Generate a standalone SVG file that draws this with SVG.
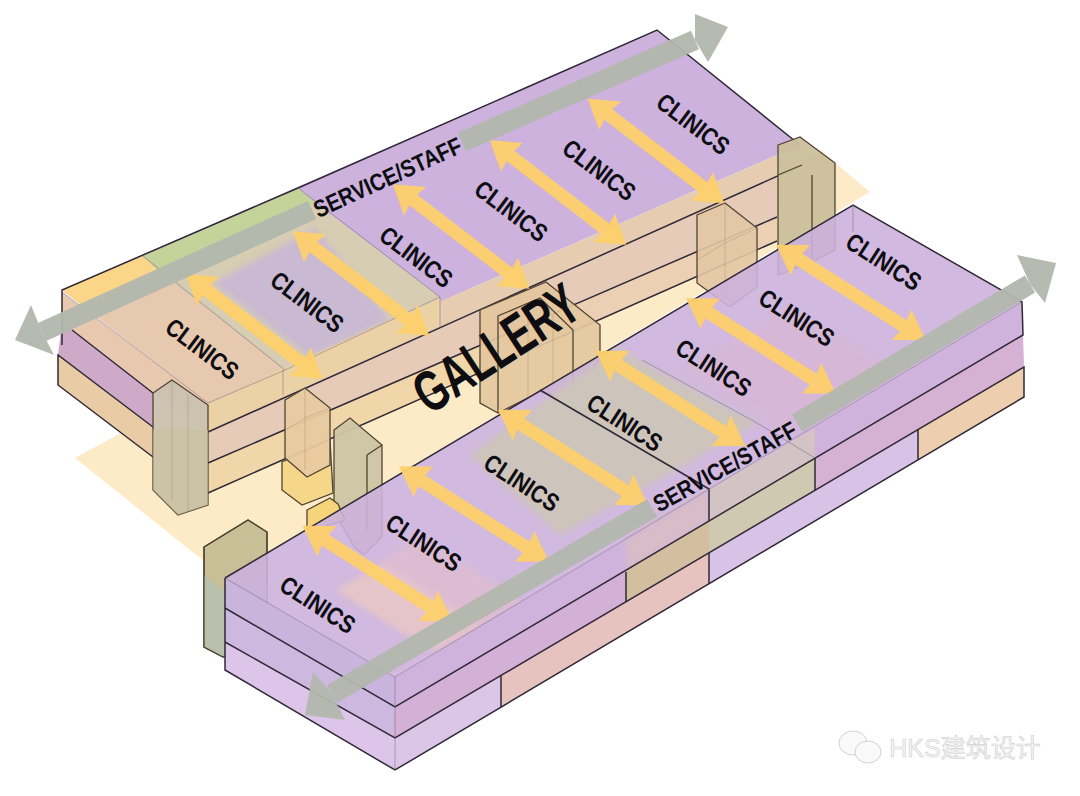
<svg xmlns="http://www.w3.org/2000/svg" width="1080" height="796" viewBox="0 0 1080 796">
<style>
.ln{fill:none;stroke:#2f2836;stroke-width:1.5}
.th{fill:none;stroke:#6f5f7c;stroke-width:.7;opacity:.7}
.tw{stroke:#4f4532;stroke-width:1.3}
.fa{fill:none;stroke:#7a6f58;stroke-width:.6;opacity:.45}
.ya{fill:#fdcf6c;opacity:.96}
.gr{fill:#b2b7ad;opacity:.95}
.grl{stroke:#b2b7ad;stroke-width:20;opacity:.95;fill:none}
.soft{filter:url(#blur)}
text{font-family:"Liberation Sans",Arial,sans-serif;font-weight:700;fill:#0d0d12;text-anchor:middle}
.cl{font-size:25px}
.ss{font-size:24px}
</style>
<defs>
<filter id="blur" x="-20%" y="-20%" width="140%" height="140%"><feGaussianBlur stdDeviation="3"/></filter>
<polygon id="ya" class="ya" points="-86,0 -58,-18 -60,-6.5 60,-6.5 58,-18 86,0 58,18 60,6.5 -60,6.5 -58,18"/>
<polygon id="yb" class="ya" points="-89,0 -60,-18 -62,-6.5 62,-6.5 60,-18 89,0 60,18 62,6.5 -62,6.5 -60,18"/>
</defs>
<rect width="1080" height="796" fill="#fff"/>

<g id="ground-plane">
<polygon points="75,458 160,412 820,150 870,192 225,578" fill="#fdebc8"/>
</g>

<g id="upper-wing">
<polygon points="62,290 657,30 803,148 777,155 208,403" fill="#ccb2dc"/>
<polygon points="62,290 143,256 160,272 85,308" fill="#fbd588"/>
<polygon points="143,256 299,188 316,203 160,272" fill="#c3d39a"/>
<polygon points="85,308 160,272 285,370 208,403" fill="#e7c9b0"/>
<polygon points="160,272 316,203 440,297 285,370" fill="#d7cdb2"/>
<polygon class="soft" points="213,283 315,228 390,320 310,357" fill="#c9b9d2"/>
<polygon points="208,403 777,155 802,165 208,432" fill="#e6cdb2"/>
<polygon points="208,403 440,297 440,325 208,432" fill="#ebd2a6"/>
<polygon points="208,432 802,165 777,217 208,463" fill="#e6cbb8"/>
<polygon points="208,463 777,217 777,241 208,493" fill="#ecd0b4"/>
<polygon points="208,463 480,346 480,373 208,493" fill="#f0d6a8"/>
<polygon points="62,292 208,403 208,432 153,393 72,330 62,322" fill="#e8c9b0"/>
<polygon points="62,322 72,330 153,393 153,427 58,355" fill="#cfaac8"/>
<polygon points="58,355 153,427 153,457 58,385" fill="#e9cba6"/>
<polyline class="ln" points="62,345 62,290 298,188 657,30 800,145"/>
<line class="ln" x1="72" y1="330" x2="153" y2="393"/>
<polyline class="ln" points="153,427 58,355 58,385 153,457"/>
<line class="ln" x1="208" y1="432" x2="802" y2="165"/>
<line class="ln" x1="208" y1="463" x2="777" y2="217"/>
<line class="ln" x1="208" y1="493" x2="777" y2="241"/>
<polyline class="th" points="62,292 208,403 285,370 440,297"/>
<line class="th" x1="143" y1="256" x2="285" y2="370"/>
<line class="th" x1="298" y1="188" x2="440" y2="297"/>
<line class="th" x1="440" y1="297" x2="440" y2="328"/>
<line class="th" x1="283" y1="370" x2="283" y2="395"/>
</g>

<g id="towers-back">
<polygon class="tw" points="778,145 800,137 835,163 835,250 812,262 778,275" fill="#cbc09c" fill-opacity=".95"/>
<polyline class="tw" fill="none" points="778,175 802,165"/>
<polyline class="tw" fill="none" points="812,175 812,262"/>
<polygon class="tw" points="697,215 725,203 757,228 757,287 730,307 697,283" fill="#e3c6a4" fill-opacity=".9"/>
<line class="fa" x1="725" y1="203" x2="725" y2="300"/>
<polyline class="fa" points="697,260 725,243 757,228"/>
<polygon class="tw" points="480,310 546,282 600,325 600,358 574,400 540,392 498,413 480,403" fill="#e4c79d" fill-opacity=".92"/>
<polyline class="tw" fill="none" points="498,413 498,316 540,298 573,330 573,400"/>
<line class="fa" x1="528" y1="305" x2="528" y2="398"/>
<line class="fa" x1="553" y1="315" x2="553" y2="385"/>
<polygon class="tw" points="334,430 350,418 382,445 382,537 364,555 355,548 334,512" fill="#cdc5a4" fill-opacity=".95"/>
<polyline class="tw" fill="none" points="367,455 367,530"/>
<line class="tw" x1="367" y1="455" x2="382" y2="445"/>
<polygon class="tw" points="204,547 248,520 267,532 267,630 223,657 204,647" fill="#c9bf96"/>
<polygon points="204,575 223,590 267,580 267,630 223,657 204,647" fill="#b9c1ae"/>
<polygon class="tw" points="204,547 248,520 267,532 267,630 223,657 204,647" fill="none"/>
<polygon class="tw" points="307,510 330,498 338,504 345,520 307,532" fill="#f6d47c"/>
</g>

<g id="lower-wing">
<polygon points="225,578 853,205 1022,302 395,677" fill="#ccb1dc" opacity=".9"/>
<polygon class="soft" points="470,455 618,347 642,362 757,423 671,473 560,535" fill="#cdc4bb"/>
<polygon class="soft" points="340,590 420,535 535,610 450,660" fill="#dfbdd2" opacity=".85"/>
<polygon class="soft" points="335,590 385,565 480,625 430,650" fill="#e6c6c8" opacity=".9"/>
<polygon class="soft" points="680,370 790,305 900,370 790,435" fill="#d8b7d6" opacity=".75"/>
<polygon points="395,677 1022,302 1023,335 395,707" fill="#cfb3dc"/>
<polygon class="soft" points="626,539 709,489 709,521 626,570" fill="#d8bcc8"/>
<polygon points="709,489 815,428 815,458 709,521" fill="#d4c3c4"/>
<polygon points="395,707 626,570 626,602 395,738" fill="#d3b0d6"/>
<polygon points="626,570 709,521 709,553 626,602" fill="#d3bf9f"/>
<polygon points="709,521 815,458 815,490 709,553" fill="#cfc9b2"/>
<polygon points="815,458 1023,335 1024,367 815,490" fill="#d5b1d3"/>
<polygon points="395,738 501,675 501,707 395,770" fill="#dcc6e8"/>
<polygon points="501,675 709,553 709,584 501,707" fill="#e7c3c0"/>
<polygon points="709,553 918,429 918,460 709,584" fill="#d8c2e6"/>
<polygon points="918,429 1024,367 1024,397 918,460" fill="#edcfb0"/>
<polygon points="225,578 395,677 395,707 225,608" fill="#c9b4de"/>
<polygon points="225,608 395,707 395,738 225,642" fill="#cdb8e0"/>
<polygon points="225,642 395,738 395,770 225,670" fill="#dcc5e8"/>
<polyline class="ln" points="225,578 853,205 1022,302 1023,335 395,707 225,608"/>
<polyline class="ln" points="225,642 395,738 1024,367 1024,397 395,770 225,670 225,578"/>
<polyline class="ln" points="540,390 709,489 709,521"/>
<line class="ln" x1="626" y1="572" x2="626" y2="602"/>
<line class="ln" x1="709" y1="553" x2="709" y2="584"/>
<line class="ln" x1="815" y1="458" x2="815" y2="490"/>
<line class="ln" x1="918" y1="429" x2="918" y2="460"/>
<line class="ln" x1="501" y1="676" x2="501" y2="707"/>
<polyline class="th" points="225,578 395,677 1022,302"/>
<line class="th" x1="395" y1="677" x2="395" y2="770"/>
<line class="th" x1="642" y1="360" x2="757" y2="423"/>
<line class="th" x1="853" y1="205" x2="853" y2="232"/>
<line class="th" x1="815" y1="458" x2="757" y2="423"/>
</g>

<g id="towers-front">
<polygon class="tw" points="153,393 172,380 208,405 208,505 178,515 153,490" fill="#cac0b0" fill-opacity=".92"/>
<polygon points="153,430 208,430 208,505 178,515 153,490" fill="#cbc29e" fill-opacity=".6"/>
<line class="fa" x1="172" y1="380" x2="172" y2="500"/>
<line class="fa" x1="188" y1="395" x2="188" y2="512"/>
<polygon class="tw" points="282,462 330,440 333,493 302,505 282,490" fill="#f6d688"/>
<polygon class="tw" points="285,400 305,388 330,408 330,465 307,477 285,458" fill="#e8caa0" fill-opacity=".95"/>
<line class="fa" x1="305" y1="388" x2="305" y2="470"/>
<polyline class="fa" points="285,430 305,418 330,408"/>
</g>

<g id="yellow-arrows">
<use href="#ya" transform="translate(254,326.5) rotate(37.5)"/>
<use href="#ya" transform="translate(361,283.5) rotate(37.5)"/>
<use href="#ya" transform="translate(461,236.5) rotate(37.5)"/>
<use href="#ya" transform="translate(558,192.5) rotate(37.5)"/>
<use href="#ya" transform="translate(656,151) rotate(37.5)"/>
<use href="#yb" transform="translate(377.5,573.5) rotate(32.5)"/>
<use href="#yb" transform="translate(474,514) rotate(32.5)"/>
<use href="#yb" transform="translate(573,457.5) rotate(32.5)"/>
<use href="#yb" transform="translate(670.5,398.5) rotate(32.5)"/>
<use href="#yb" transform="translate(761,346) rotate(32.5)"/>
<use href="#yb" transform="translate(851,292.5) rotate(32.5)"/>
</g>

<g id="grey-arrows">
<line class="grl" x1="42" y1="332" x2="312" y2="210"/>
<line class="grl" x1="462" y1="142" x2="695" y2="40"/>
<polygon class="gr" points="15,340 31,305 42,332 54,355"/>
<polygon class="gr" points="728,27 695,14 695,40 708,62"/>
<line class="grl" x1="332" y1="694" x2="652" y2="508"/>
<line class="grl" x1="797" y1="423" x2="1030" y2="284"/>
<polygon class="gr" points="305,715 313,672 332,694 345,720"/>
<polygon class="gr" points="1056,263 1017,255 1030,284 1045,303"/>
</g>

<g id="labels">
<text class="cl" transform="translate(197,356) rotate(37)" textLength="84" lengthAdjust="spacingAndGlyphs">CLINICS</text>
<text class="cl" transform="translate(302,309) rotate(37)" textLength="84" lengthAdjust="spacingAndGlyphs">CLINICS</text>
<text class="cl" transform="translate(411,264) rotate(37)" textLength="84" lengthAdjust="spacingAndGlyphs">CLINICS</text>
<text class="cl" transform="translate(506,218) rotate(37)" textLength="84" lengthAdjust="spacingAndGlyphs">CLINICS</text>
<text class="cl" transform="translate(594,177) rotate(37)" textLength="84" lengthAdjust="spacingAndGlyphs">CLINICS</text>
<text class="cl" transform="translate(688,131) rotate(37)" textLength="84" lengthAdjust="spacingAndGlyphs">CLINICS</text>
<text class="cl" transform="translate(313,612) rotate(33)" textLength="84" lengthAdjust="spacingAndGlyphs">CLINICS</text>
<text class="cl" transform="translate(419,550) rotate(33)" textLength="84" lengthAdjust="spacingAndGlyphs">CLINICS</text>
<text class="cl" transform="translate(517,490) rotate(33)" textLength="84" lengthAdjust="spacingAndGlyphs">CLINICS</text>
<text class="cl" transform="translate(620,430) rotate(33)" textLength="84" lengthAdjust="spacingAndGlyphs">CLINICS</text>
<text class="cl" transform="translate(709,375) rotate(33)" textLength="84" lengthAdjust="spacingAndGlyphs">CLINICS</text>
<text class="cl" transform="translate(792,325) rotate(33)" textLength="84" lengthAdjust="spacingAndGlyphs">CLINICS</text>
<text class="cl" transform="translate(879,269) rotate(33)" textLength="84" lengthAdjust="spacingAndGlyphs">CLINICS</text>
<text class="ss" transform="translate(391,185) rotate(-24.5)" textLength="160" lengthAdjust="spacingAndGlyphs">SERVICE/STAFF</text>
<text class="ss" transform="translate(729,474) rotate(-29)" textLength="160" lengthAdjust="spacingAndGlyphs">SERVICE/STAFF</text>
<text transform="translate(507,365) rotate(-33)" font-size="58" textLength="185" lengthAdjust="spacingAndGlyphs">GALLERY</text>
</g>

<g id="watermark">
<ellipse cx="853" cy="743" rx="14" ry="12" fill="#fafafa" stroke="#d2d2d2"/>
<ellipse cx="868" cy="752" rx="13" ry="11" fill="#fafafa" stroke="#d2d2d2"/>
<text x="965" y="757" font-size="25" style="font-family:'Liberation Sans','Noto Sans CJK SC',sans-serif;font-weight:400;fill:#f6f6f6;stroke:#cfcfcf;stroke-width:.6">HKS建筑设计</text>
</g>
</svg>
